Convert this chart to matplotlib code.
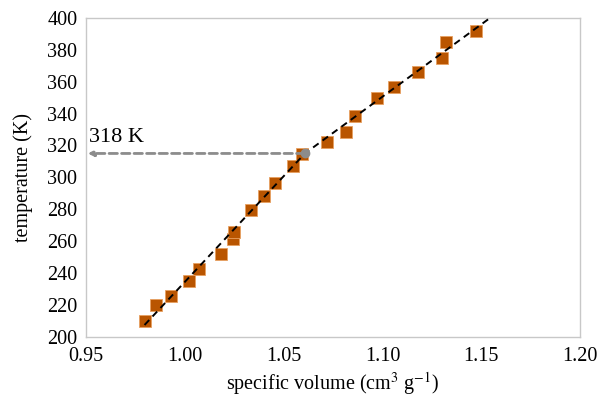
import numpy as np
import matplotlib
matplotlib.use("Agg")
from matplotlib import pyplot as plt

# specific volume (cm3/g) and temperature (K)
volume = [0.9797, 0.9854, 0.9932, 1.0020, 1.0072, 1.0185, 1.0242, 1.0249, 1.0334, 1.0402, 1.0458,
          1.0548, 1.0595, 1.0722, 1.0816, 1.0861, 1.0973, 1.1059, 1.1179, 1.1300, 1.1320, 1.1474]
temperature = [209.8, 220.1, 225.9, 235.3, 242.6, 252.0, 261.6, 265.6, 279.6, 288.2, 296.4,
               307.4, 314.9, 322.1, 328.7, 338.7, 349.8, 356.9, 366.1, 374.7, 385.1, 391.8]
# two-segment fit, meeting at the transition point
fit_volume = [0.9797, 1.0608, 1.1545]
fit_temperature = [207.5, 315.0, 400.0]
x_ticks = [0.95, 1.00, 1.05, 1.10, 1.15, 1.20]
y_ticks = [200, 220, 240, 260, 280, 300, 320, 340, 360, 380, 400]
glass_label = "318 K"

plt.rcParams['font.family'] = ['Liberation Serif', 'DejaVu Serif']
plt.rcParams['mathtext.fontset'] = 'stix'

fig = plt.figure(figsize=(6.0, 4.05), dpi=100)
ax = fig.add_axes([0.143, 0.168, 0.824, 0.788])

ax.plot(fit_volume, fit_temperature, color='black', lw=1.4, ls=(0, (3.5, 2.5)), zorder=3)

ax.plot(volume, temperature, ls='none', marker='s', ms=8, color='#b95500',
        mec='#e8a060', mew=0.6, zorder=2)

# arrow from the transition point to the temperature axis
gx, gy = fit_volume[1], fit_temperature[1]
ax.annotate('', xy=(0.951, gy), xytext=(gx, gy),
            arrowprops=dict(arrowstyle='-|>', color='#8c8c8c', lw=2, ls=(0, (3, 1.5)),
                            mutation_scale=8, shrinkA=0, shrinkB=0), zorder=4)
ax.plot(gx, gy, marker='o', ms=6, color='#8c8c8c', zorder=4)
ax.text(0.9515, 319, glass_label, fontsize=16, ha='left', va='bottom')

ax.set_xlim(0.95, 1.20)
ax.set_ylim(200, 400)
ax.set_xticks(x_ticks)
ax.set_xticklabels(['%.2f' % v for v in x_ticks])
ax.set_yticks(y_ticks)
ax.tick_params(length=0, labelsize=14.5)
ax.tick_params(axis='y', pad=6)
ax.tick_params(axis='x', pad=7)
for s in ax.spines.values():
    s.set_color('#c8c8c8')
    s.set_linewidth(1)

ax.set_xlabel('specific volume (cm$^3$ g$^{-1}$)', fontsize=14.5, labelpad=3)
ax.set_ylabel('temperature (K)', fontsize=14.5, labelpad=10)

plt.savefig('out.png', dpi=100)
